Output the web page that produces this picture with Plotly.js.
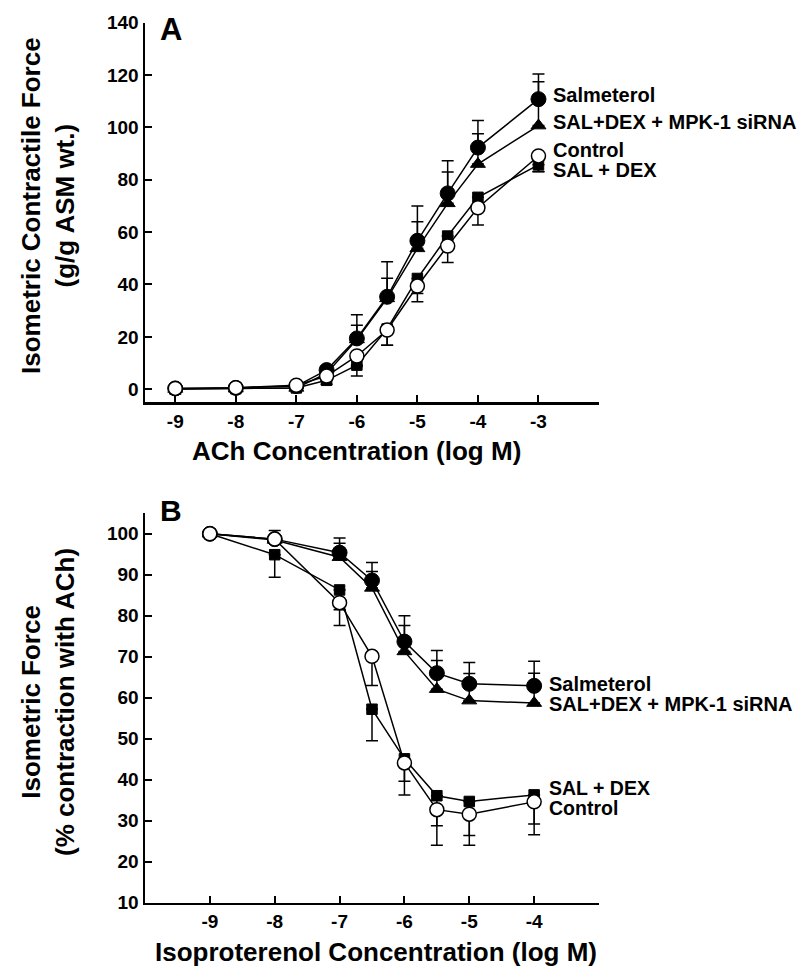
<!DOCTYPE html>
<html>
<head>
<meta charset="utf-8">
<script src="https://cdn.plot.ly/plotly-3.0.1.min.js"></script>
<style>html,body{margin:0;padding:0;background:#fff;}#chart{width:800px;height:974px;}</style>
</head>
<body>
<div id="chart"></div>
<script>
// ---------- Panel A: ACh concentration-response ----------
const xA = [-9, -8, -7, -6.5, -6, -5.5, -5, -4.5, -4, -3];
const salA    = [0.3, 0.5, 1.2, 7.3, 19.4, 35.3, 56.7, 74.8, 92.3, 110.8];
const salAErr = [0.5, 0.5, 0.8, 1.5, 9.0, 13.4, 13.3, 12.5, 10.3, 9.6];
const mpkA    = [0.1, 0.2, 0.5, 6.0, 19.0, 34.7, 53.8, 71.0, 86.0, 100.7];
const mpkAErr = [0.5, 0.5, 0.8, 1.5, 5.4, 7.7, 10.2, 12.0, 11.6, 16.7];
const ctlA    = [0.3, 0.6, 1.5, 5.0, 12.7, 22.6, 39.4, 54.7, 69.3, 89.1];
const ctlAErr = [2.0, 1.0, 1.0, 1.5, 4.0, 5.8, 6.0, 6.3, 6.6, 6.0];
const sdA     = [0.1, 0.2, 0.5, 3.4, 9.2, 23.0, 42.3, 58.5, 73.3, 85.7];
const sdAErr  = [0.5, 0.5, 0.8, 1.5, 4.2, 6.2, 5.7, 5.0, 4.0, 2.5];
const xTicksA = [-9, -8, -7, -6, -5, -4, -3, -2];
const xTextA  = ['-9', '-8', '-7', '-6', '-5', '-4', '-3', ''];
const yTicksA = [0, 20, 40, 60, 80, 100, 120, 140];

// ---------- Panel B: Isoproterenol relaxation ----------
const xB = [-9, -8, -7, -6.5, -6, -5.5, -5, -4];
const salB    = [100, 98.7, 95.4, 88.6, 73.7, 66.0, 63.4, 62.9];
const salBErr = [0, 2.1, 3.6, 4.4, 6.3, 5.5, 5.2, 6.0];
const mpkB    = [100, 98.5, 94.3, 86.8, 71.3, 62.1, 59.3, 58.7];
const mpkBErr = [0, 0.5, 3.4, 4.0, 6.3, 7.0, 6.6, 7.3];
const sdB     = [100, 94.9, 86.3, 57.2, 45.1, 36.1, 34.7, 36.3];
const sdBErr  = [0, 5.5, 4.8, 7.7, 5.5, 7.3, 8.3, 7.1];
const ctlB    = [100, 98.7, 83.2, 70.1, 44.1, 32.7, 31.6, 34.6];
const ctlBErr = [0, 0.5, 5.6, 7.1, 7.8, 8.7, 7.6, 8.0];
const xTicksB = [-9, -8, -7, -6, -5, -4, -3];
const xTextB  = ['-9', '-8', '-7', '-6', '-5', '-4', ''];
const yTicksB = [10, 20, 30, 40, 50, 60, 70, 80, 90, 100];

const seriesNames = ['Salmeterol', 'SAL+DEX + MPK-1 siRNA', 'Control', 'SAL + DEX'];

const FONT = 'Liberation Sans, Arial, Helvetica, sans-serif';
const zeros = a => a.map(() => 0);

function errUp(e) {
  return {type: 'data', symmetric: false, array: e, arrayminus: zeros(e),
          color: '#000', thickness: 1.5, width: 6};
}
function errDown(e) {
  return {type: 'data', symmetric: false, array: zeros(e), arrayminus: e,
          color: '#000', thickness: 1.5, width: 6};
}
const styles = {
  sal: {symbol: 'circle', size: 15, color: '#000', line: {color: '#000', width: 1}},
  mpk: {symbol: 'triangle-up', size: 13, color: '#000', line: {color: '#000', width: 1}},
  ctl: {symbol: 'circle', size: 14, color: '#fff', line: {color: '#000', width: 1.5}},
  sd:  {symbol: 'square', size: 10.5, color: '#000', line: {color: '#000', width: 1}}
};
function tr(x, y, err, dir, mk, name, xa, ya) {
  return {
    x: x, y: y, name: name, type: 'scatter', mode: 'lines+markers',
    xaxis: xa, yaxis: ya, cliponaxis: false,
    line: {color: '#000', width: 1.5},
    marker: mk,
    error_y: dir === 'up' ? errUp(err) : errDown(err),
    showlegend: false, hoverinfo: 'x+y+name'
  };
}

const data = [
  tr(xA, sdA, sdAErr, 'down', styles.sd, seriesNames[3], 'x', 'y'),
  tr(xA, mpkA, mpkAErr, 'up', styles.mpk, seriesNames[1], 'x', 'y'),
  tr(xA, salA, salAErr, 'up', styles.sal, seriesNames[0], 'x', 'y'),
  tr(xA, ctlA, ctlAErr, 'down', styles.ctl, seriesNames[2], 'x', 'y'),
  tr(xB, sdB, sdBErr, 'down', styles.sd, seriesNames[3], 'x2', 'y2'),
  tr(xB, mpkB, mpkBErr, 'up', styles.mpk, seriesNames[1], 'x2', 'y2'),
  tr(xB, salB, salBErr, 'up', styles.sal, seriesNames[0], 'x2', 'y2'),
  tr(xB, ctlB, ctlBErr, 'down', styles.ctl, seriesNames[2], 'x2', 'y2')
];

const tickFont = {family: FONT, size: 19, color: '#000', weight: 'bold'};
function axisBase() {
  return {
    showline: true, linecolor: '#000', linewidth: 2.5,
    ticks: 'inside', ticklen: 7, tickwidth: 2, tickcolor: '#000',
    showgrid: false, zeroline: false, tickfont: tickFont, fixedrange: true
  };
}
const W = 800, H = 974;
const px = v => v / W, py = v => 1 - v / H;
const xDom = [px(145), px(599)];

const layout = {
  width: W, height: H,
  margin: {l: 0, r: 0, t: 0, b: 0},
  paper_bgcolor: '#fff', plot_bgcolor: '#fff',
  font: {family: FONT, color: '#000'},
  showlegend: false,
  xaxis: Object.assign(axisBase(), {domain: xDom, range: [-9.5, -2], anchor: 'y',
    tickmode: 'array', tickvals: xTicksA, ticktext: xTextA}),
  yaxis: Object.assign(axisBase(), {domain: [py(402.3), py(22.7)], range: [-5, 140], anchor: 'x',
    tickmode: 'array', tickvals: yTicksA}),
  xaxis2: Object.assign(axisBase(), {domain: xDom, range: [-10, -3], anchor: 'y2',
    tickmode: 'array', tickvals: xTicksB, ticktext: xTextB}),
  yaxis2: Object.assign(axisBase(), {domain: [py(902.7), py(513.3)], range: [10, 105], anchor: 'x2',
    tickmode: 'array', tickvals: yTicksB}),
  annotations: []
};

function ann(text, x, y, size, opts) {
  return Object.assign({
    text: text, x: x, y: y, xref: 'paper', yref: 'paper',
    showarrow: false, xanchor: 'center', yanchor: 'middle',
    font: {family: FONT, size: size, color: '#000', weight: 'bold'}
  }, opts || {});
}
function lab(text, xv, yv, xr, yr, sz) {
  return {
    text: text, x: xv, y: yv, xref: xr, yref: yr, xanchor: 'left', yanchor: 'middle',
    xshift: 13, showarrow: false,
    font: {family: FONT, size: sz || 20, color: '#000', weight: 'bold'}
  };
}
layout.annotations.push(
  ann('A', px(171), py(30), 31),
  ann('B', px(171), py(510), 30),
  ann('ACh Concentration (log M)', px(356), py(451), 26),
  ann('Isoproterenol Concentration (log M)', px(376), py(952), 26),
  ann('Isometric Contractile Force<br>(g/g ASM wt.)', px(48), py(206), 26, {textangle: -90}),
  ann('Isometric Force<br>(% contraction with ACh)', px(48), py(702), 26, {textangle: -90}),
  lab(seriesNames[0], -3, 112.4, 'x', 'y'),
  lab(seriesNames[1], -3, 102.0, 'x', 'y'),
  lab(seriesNames[2], -3, 91.4, 'x', 'y'),
  lab(seriesNames[3], -3, 83.9, 'x', 'y'),
  lab(seriesNames[0], -4, 63.3, 'x2', 'y2'),
  lab(seriesNames[1], -4, 58.4, 'x2', 'y2'),
  lab(seriesNames[3], -4, 37.9, 'x2', 'y2', 19.5),
  lab(seriesNames[2], -4, 33.0, 'x2', 'y2', 19.5)
);

Plotly.newPlot('chart', data, layout, {displayModeBar: false, staticPlot: true});
</script>
</body>
</html>
